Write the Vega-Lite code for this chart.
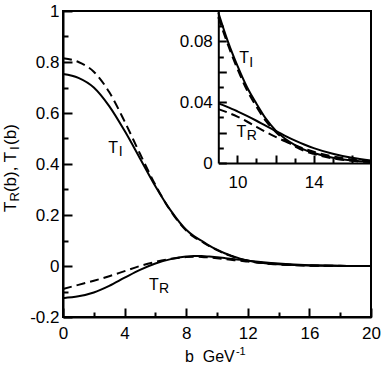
{
  "$schema": "https://vega.github.io/schema/vega-lite/v6.json",
  "width": 308,
  "height": 306,
  "autosize": {"type": "none"},
  "padding": {"left": 63, "top": 11, "right": 11, "bottom": 48},
  "config": {
    "font": "Liberation Sans",
    "view": {"stroke": "black", "strokeWidth": 2},
    "axis": {
      "domainColor": "black", "domainWidth": 2, "tickColor": "black", "tickWidth": 2,
      "labelColor": "black", "labelFont": "Liberation Sans", "labelFontSize": 17,
      "grid": false, "labelOverlap": false, "labelFlush": false, "labelBound": false
    },
    "text": {"font": "Liberation Sans", "color": "black"}
  },
  "datasets": {
    "curves": [
      {"b": 0, "TI1": 0.753, "TI2": 0.815, "TR1": -0.126, "TR2": -0.090},
      {"b": 1, "TI1": 0.738, "TI2": 0.800, "TR1": -0.119, "TR2": -0.074},
      {"b": 2, "TI1": 0.700, "TI2": 0.762, "TR1": -0.104, "TR2": -0.058},
      {"b": 3, "TI1": 0.627, "TI2": 0.682, "TR1": -0.078, "TR2": -0.040},
      {"b": 4, "TI1": 0.530, "TI2": 0.567, "TR1": -0.046, "TR2": -0.020},
      {"b": 5, "TI1": 0.422, "TI2": 0.440, "TR1": -0.015, "TR2": 0.000},
      {"b": 6, "TI1": 0.313, "TI2": 0.318, "TR1": 0.010, "TR2": 0.016},
      {"b": 7, "TI1": 0.217, "TI2": 0.215, "TR1": 0.027, "TR2": 0.028},
      {"b": 8, "TI1": 0.142, "TI2": 0.139, "TR1": 0.037, "TR2": 0.035},
      {"b": 8.5, "TI1": 0.117, "TI2": 0.114, "TR1": 0.0393, "TR2": 0.0362},
      {"b": 9, "TI1": 0.099, "TI2": 0.096, "TR1": 0.0392, "TR2": 0.0355},
      {"b": 9.5, "TI1": 0.080, "TI2": 0.078, "TR1": 0.0368, "TR2": 0.0332},
      {"b": 10, "TI1": 0.064, "TI2": 0.062, "TR1": 0.0340, "TR2": 0.0305},
      {"b": 10.5, "TI1": 0.050, "TI2": 0.048, "TR1": 0.0310, "TR2": 0.0273},
      {"b": 11, "TI1": 0.039, "TI2": 0.037, "TR1": 0.0278, "TR2": 0.0238},
      {"b": 11.5, "TI1": 0.029, "TI2": 0.0275, "TR1": 0.0244, "TR2": 0.0203},
      {"b": 12, "TI1": 0.0215, "TI2": 0.0205, "TR1": 0.0211, "TR2": 0.0172},
      {"b": 12.5, "TI1": 0.0160, "TI2": 0.0150, "TR1": 0.0179, "TR2": 0.0143},
      {"b": 13, "TI1": 0.0120, "TI2": 0.0110, "TR1": 0.0149, "TR2": 0.0117},
      {"b": 13.5, "TI1": 0.0088, "TI2": 0.0080, "TR1": 0.0122, "TR2": 0.0094},
      {"b": 14, "TI1": 0.0066, "TI2": 0.0060, "TR1": 0.0098, "TR2": 0.0074},
      {"b": 15, "TI1": 0.0035, "TI2": 0.0030, "TR1": 0.0061, "TR2": 0.0044},
      {"b": 16, "TI1": 0.0017, "TI2": 0.0014, "TR1": 0.0034, "TR2": 0.0023},
      {"b": 17, "TI1": 0.0008, "TI2": 0.0006, "TR1": 0.0016, "TR2": 0.0011},
      {"b": 18, "TI1": 0.0004, "TI2": 0.0003, "TR1": 0.0007, "TR2": 0.0005},
      {"b": 19, "TI1": 0.0002, "TI2": 0.0001, "TR1": 0.0003, "TR2": 0.0002},
      {"b": 20, "TI1": 0.0001, "TI2": 0.0000, "TR1": 0.0001, "TR2": 0.0001}
    ]
  },
  "layer": [
    {
      "layer": [
        {
          "data": {"name": "curves"},
          "mark": {"type": "line", "interpolate": "monotone", "stroke": "black", "strokeWidth": 2},
          "encoding": {
            "x": {"field": "b", "type": "quantitative", "scale": {"domain": [0, 20], "nice": false, "zero": false},
                  "axis": {"orient": "bottom", "values": [0, 4, 8, 12, 16, 20], "tickSize": -9, "labelPadding": 17, "format": "d", "title": null}},
            "y": {"field": "TI1", "type": "quantitative", "scale": {"domain": [-0.2, 1], "nice": false, "zero": false},
                  "axis": {"orient": "left", "values": [-0.2, 0, 0.2, 0.4, 0.6, 0.8, 1], "tickSize": -9, "labelPadding": 13, "labelExpr": "'' + datum.value", "title": null}}
          }
        },
        {
          "data": {"name": "curves"},
          "mark": {"type": "line", "interpolate": "monotone", "stroke": "black", "strokeWidth": 2, "strokeDash": [9, 5]},
          "encoding": {
            "x": {"field": "b", "type": "quantitative", "scale": {"domain": [0, 20], "nice": false, "zero": false},
                  "axis": {"orient": "bottom", "values": [2, 6, 10, 14, 18], "tickSize": -5, "labels": false, "domain": false, "title": null}},
            "y": {"field": "TI2", "type": "quantitative", "scale": {"domain": [-0.2, 1], "nice": false, "zero": false},
                  "axis": {"orient": "left", "values": [-0.1, 0.1, 0.3, 0.5, 0.7, 0.9], "tickSize": -5, "labels": false, "domain": false, "title": null}}
          }
        },
        {
          "data": {"name": "curves"},
          "mark": {"type": "line", "interpolate": "monotone", "stroke": "black", "strokeWidth": 2},
          "encoding": {
            "x": {"field": "b", "type": "quantitative", "scale": {"domain": [0, 20], "nice": false, "zero": false}, "axis": null},
            "y": {"field": "TR1", "type": "quantitative", "scale": {"domain": [-0.2, 1], "nice": false, "zero": false}, "axis": null}
          }
        },
        {
          "data": {"name": "curves"},
          "mark": {"type": "line", "interpolate": "monotone", "stroke": "black", "strokeWidth": 2, "strokeDash": [9, 5]},
          "encoding": {
            "x": {"field": "b", "type": "quantitative", "scale": {"domain": [0, 20], "nice": false, "zero": false}, "axis": null},
            "y": {"field": "TR2", "type": "quantitative", "scale": {"domain": [-0.2, 1], "nice": false, "zero": false}, "axis": null}
          }
        },
        {
          "data": {"values": [
            {"b": 2.94, "v": 0.442, "t": "T"},
            {"b": 5.58, "v": -0.094, "t": "T"},
            {"b": 7.92, "v": -0.375, "t": "b\u00a0\u00a0GeV"}
          ]},
          "mark": {"type": "text", "align": "left", "baseline": "alphabetic", "fontSize": 16},
          "encoding": {
            "x": {"field": "b", "type": "quantitative", "scale": {"domain": [0, 20], "nice": false, "zero": false}, "axis": null},
            "y": {"field": "v", "type": "quantitative", "scale": {"domain": [-0.2, 1], "nice": false, "zero": false}, "axis": null},
            "text": {"field": "t", "type": "nominal"}
          }
        },
        {
          "data": {"values": [
            {"b": 3.62, "v": 0.442, "t": "I"},
            {"b": 6.23, "v": -0.094, "t": "R"}
          ]},
          "mark": {"type": "text", "align": "left", "baseline": "alphabetic", "fontSize": 14, "dy": 3},
          "encoding": {
            "x": {"field": "b", "type": "quantitative", "scale": {"domain": [0, 20], "nice": false, "zero": false}, "axis": null},
            "y": {"field": "v", "type": "quantitative", "scale": {"domain": [-0.2, 1], "nice": false, "zero": false}, "axis": null},
            "text": {"field": "t", "type": "nominal"}
          }
        },
        {
          "data": {"values": [
            {"b": 11.23, "v": -0.375, "t": "-1"}
          ]},
          "mark": {"type": "text", "align": "left", "baseline": "alphabetic", "fontSize": 11, "dy": -7},
          "encoding": {
            "x": {"field": "b", "type": "quantitative", "scale": {"domain": [0, 20], "nice": false, "zero": false}, "axis": null},
            "y": {"field": "v", "type": "quantitative", "scale": {"domain": [-0.2, 1], "nice": false, "zero": false}, "axis": null},
            "text": {"field": "t", "type": "nominal"}
          }
        },
        {
          "data": {"values": [
            {"b": -3.084, "v": 0.212, "t": "T"},
            {"b": -3.084, "v": 0.290, "t": "(b), T"},
            {"b": -3.084, "v": 0.475, "t": "(b)"}
          ]},
          "mark": {"type": "text", "align": "left", "baseline": "alphabetic", "fontSize": 17, "angle": 270},
          "encoding": {
            "x": {"field": "b", "type": "quantitative", "scale": {"domain": [0, 20], "nice": false, "zero": false}, "axis": null},
            "y": {"field": "v", "type": "quantitative", "scale": {"domain": [-0.2, 1], "nice": false, "zero": false}, "axis": null},
            "text": {"field": "t", "type": "nominal"}
          }
        },
        {
          "data": {"values": [
            {"b": -3.084, "v": 0.253, "t": "R"},
            {"b": -3.084, "v": 0.455, "t": "I"}
          ]},
          "mark": {"type": "text", "align": "left", "baseline": "alphabetic", "fontSize": 13, "angle": 270, "dy": 3},
          "encoding": {
            "x": {"field": "b", "type": "quantitative", "scale": {"domain": [0, 20], "nice": false, "zero": false}, "axis": null},
            "y": {"field": "v", "type": "quantitative", "scale": {"domain": [-0.2, 1], "nice": false, "zero": false}, "axis": null},
            "text": {"field": "t", "type": "nominal"}
          }
        }
      ],
      "resolve": {"axis": {"x": "independent", "y": "independent"}}
    },
    {
      "layer": [
        {
          "data": {"name": "curves"},
          "transform": [{"filter": "datum.b >= 9 && datum.b <= 17"}],
          "mark": {"type": "line", "interpolate": "monotone", "stroke": "black", "strokeWidth": 2, "clip": true},
          "encoding": {
            "x": {"field": "b", "type": "quantitative", "scale": {"domain": [9, 17], "range": [155.3, 308], "nice": false, "zero": false},
                  "axis": {"orient": "bottom", "offset": -154, "values": [10, 12, 14, 16], "tickSize": -8, "labelPadding": 19, "labelExpr": "datum.value == 10 || datum.value == 14 ? datum.label : ''", "title": null}},
            "y": {"field": "TI1", "type": "quantitative", "scale": {"domain": [0, 0.1], "range": [152, 0], "nice": false, "zero": false},
                  "axis": {"orient": "left", "offset": -155.3, "values": [0, 0.02, 0.04, 0.06, 0.08], "tickSize": -8, "labelPadding": 14, "labelExpr": "datum.value == 0 ? '0' : datum.value == 0.04 ? '0.04' : datum.value == 0.08 ? '0.08' : ''", "title": null}}
          }
        },
        {
          "data": {"name": "curves"},
          "transform": [{"filter": "datum.b >= 9 && datum.b <= 17"}],
          "mark": {"type": "line", "interpolate": "monotone", "stroke": "black", "strokeWidth": 2, "strokeDash": [9, 5], "clip": true},
          "encoding": {
            "x": {"field": "b", "type": "quantitative", "scale": {"domain": [9, 17], "range": [155.3, 308], "nice": false, "zero": false},
                  "axis": {"orient": "bottom", "offset": -154, "values": [11, 13, 15], "tickSize": -5, "labels": false, "domain": false, "title": null}},
            "y": {"field": "TI2", "type": "quantitative", "scale": {"domain": [0, 0.1], "range": [152, 0], "nice": false, "zero": false},
                  "axis": {"orient": "left", "offset": -155.3, "values": [0.01, 0.03, 0.05, 0.07, 0.09], "tickSize": -5, "labels": false, "domain": false, "title": null}}
          }
        },
        {
          "data": {"name": "curves"},
          "transform": [{"filter": "datum.b >= 9 && datum.b <= 17"}],
          "mark": {"type": "line", "interpolate": "monotone", "stroke": "black", "strokeWidth": 2, "clip": true},
          "encoding": {
            "x": {"field": "b", "type": "quantitative", "scale": {"domain": [9, 17], "range": [155.3, 308], "nice": false, "zero": false}, "axis": null},
            "y": {"field": "TR1", "type": "quantitative", "scale": {"domain": [0, 0.1], "range": [152, 0], "nice": false, "zero": false}, "axis": null}
          }
        },
        {
          "data": {"name": "curves"},
          "transform": [{"filter": "datum.b >= 9 && datum.b <= 17"}],
          "mark": {"type": "line", "interpolate": "monotone", "stroke": "black", "strokeWidth": 2, "strokeDash": [9, 5], "clip": true},
          "encoding": {
            "x": {"field": "b", "type": "quantitative", "scale": {"domain": [9, 17], "range": [155.3, 308], "nice": false, "zero": false}, "axis": null},
            "y": {"field": "TR2", "type": "quantitative", "scale": {"domain": [0, 0.1], "range": [152, 0], "nice": false, "zero": false}, "axis": null}
          }
        },
        {
          "data": {"values": [
            {"b": 10.10, "v": 0.0656, "t": "T"},
            {"b": 9.96, "v": 0.0173, "t": "T"}
          ]},
          "mark": {"type": "text", "align": "left", "baseline": "alphabetic", "fontSize": 16},
          "encoding": {
            "x": {"field": "b", "type": "quantitative", "scale": {"domain": [9, 17], "range": [155.3, 308], "nice": false, "zero": false}, "axis": null},
            "y": {"field": "v", "type": "quantitative", "scale": {"domain": [0, 0.1], "range": [152, 0], "nice": false, "zero": false}, "axis": null},
            "text": {"field": "t", "type": "nominal"}
          }
        },
        {
          "data": {"values": [
            {"b": 10.62, "v": 0.0656, "t": "I"},
            {"b": 10.49, "v": 0.0173, "t": "R"}
          ]},
          "mark": {"type": "text", "align": "left", "baseline": "alphabetic", "fontSize": 14, "dy": 3.5},
          "encoding": {
            "x": {"field": "b", "type": "quantitative", "scale": {"domain": [9, 17], "range": [155.3, 308], "nice": false, "zero": false}, "axis": null},
            "y": {"field": "v", "type": "quantitative", "scale": {"domain": [0, 0.1], "range": [152, 0], "nice": false, "zero": false}, "axis": null},
            "text": {"field": "t", "type": "nominal"}
          }
        }
      ],
      "resolve": {"axis": {"x": "independent", "y": "independent"}}
    }
  ],
  "resolve": {"scale": {"x": "independent", "y": "independent"}, "axis": {"x": "independent", "y": "independent"}}
}
